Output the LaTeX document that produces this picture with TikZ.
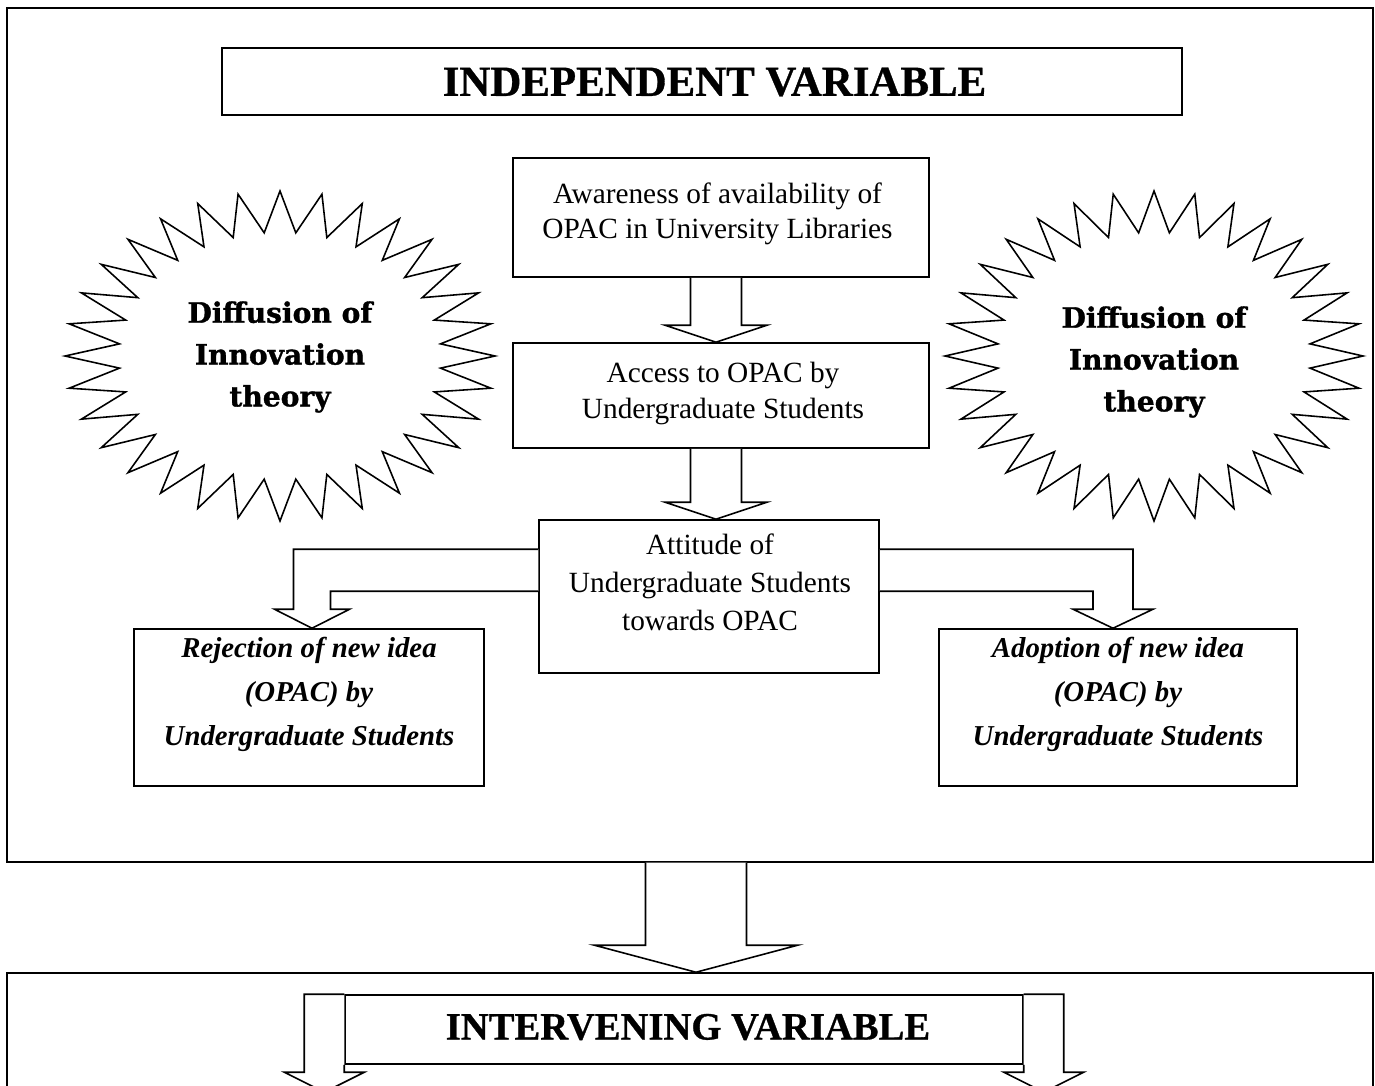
\documentclass[tikz,border=0pt]{standalone}
\usepackage{fontspec}
\setmainfont{Liberation Serif}
\newfontfamily\starfont[BoldFeatures={FakeBold=1.2}]{DejaVu Serif}
\newfontfamily\headfont[BoldFeatures={FakeBold=0.8}]{Liberation Serif}
\usetikzlibrary{calc}
\begin{document}
\begin{tikzpicture}[x=0.02cm,y=-0.02cm,
  box/.style={draw, line width=0.9pt, inner sep=0pt, fill=white},
  ln/.style={draw, line width=0.9pt, line join=miter, fill=white},
  body/.style={font=\fontsize{16.7}{21.5}\selectfont, align=center, inner sep=0pt, anchor=base},
  ital/.style={font=\fontsize{16.4}{24.9}\selectfont\bfseries\itshape, align=center, inner sep=0pt, anchor=base},
  startxt/.style={font=\starfont\bfseries\fontsize{16}{23.8}\selectfont, align=center, inner sep=0pt},
  titletxt/.style={font=\headfont\bfseries\fontsize{24.4}{28}\selectfont, inner sep=0pt}]
\clip (0,0) rectangle (1375,1085);
\fill[white] (0,0) rectangle (1375,1085);

% outer frames
\node[box, minimum width=27.32cm, minimum height=17.08cm] (outer) at (690,435) {};
\node[box, minimum width=27.32cm, minimum height=2.94cm] (lower) at (690,1046.5) {};

% title
\node[box, minimum width=19.2cm, minimum height=1.34cm] (title) at (702,81.5) {};
\node[titletxt] (titlet) at (714.5,82) {INDEPENDENT VARIABLE};

% starbursts
\coordinate (sL) at (280,356);
\coordinate (sR) at (1154,356);
\draw[ln] ($(sL)+(0,165)$) \foreach \k in {1,...,63} { -- ($(sL)+({(0.875+0.125*cos(\k*180))*215*cos(90+\k*5.625)},{(0.875+0.125*cos(\k*180))*165*sin(90+\k*5.625)})$) } -- cycle;
\draw[ln] ($(sR)+(0,165)$) \foreach \k in {1,...,63} { -- ($(sR)+({(0.875+0.125*cos(\k*180))*209*cos(90+\k*5.625)},{(0.875+0.125*cos(\k*180))*165*sin(90+\k*5.625)})$) } -- cycle;
\node[startxt] (starL) at (280,357) {Diffusion of\\Innovation\\theory};
\node[startxt] (starR) at (1154,362) {Diffusion of\\Innovation\\theory};

% central boxes
\node[box, minimum width=8.32cm, minimum height=2.38cm] (aw) at (721,217.5) {};
\node[body, font=\fontsize{16.7}{19.8}\selectfont] (awt) at (717.5,238) {Awareness of availability of\\OPAC in University Libraries};
\node[box, minimum width=8.32cm, minimum height=2.1cm] (ac) at (721,395.5) {};
\node[body, font=\fontsize{16.7}{20.4}\selectfont] (act) at (723,418) {Access to OPAC by\\Undergraduate Students};
\node[box, minimum width=6.8cm, minimum height=3.06cm] (at) at (709,596.5) {};
\node[body] (att) at (710,630) {Attitude of\\Undergraduate Students\\towards OPAC};

\node[box, minimum width=7.0cm, minimum height=3.14cm] (rej) at (309,707.5) {};
\node[ital] (rejt) at (309,745) {Rejection of new idea\\(OPAC) by\\Undergraduate Students};
\node[box, minimum width=7.16cm, minimum height=3.14cm] (adop) at (1118,707.5) {};
\node[ital] (adopt) at (1118,745) {Adoption of new idea\\(OPAC) by\\Undergraduate Students};

% straight block arrows
\coordinate (a1s) at ($(aw.south)+(-5,0)$);
\coordinate (a1t) at ($(ac.north)+(-5,0)$);
\draw[ln] ($(a1s)+(-25.5,0)$) -- ($(a1t)+(-25.5,-17)$) -- ($(a1t)+(-51,-17)$) -- (a1t) -- ($(a1t)+(51,-17)$) -- ($(a1t)+(25.5,-17)$) -- ($(a1s)+(25.5,0)$);
\coordinate (a2s) at ($(ac.south)+(-5,0)$);
\coordinate (a2t) at ($(at.north)+(7,0)$);
\draw[ln] ($(a2s)+(-25.5,0)$) -- ($(a2t)+(-25.5,-17)$) -- ($(a2t)+(-51,-17)$) -- (a2t) -- ($(a2t)+(51,-17)$) -- ($(a2t)+(25.5,-17)$) -- ($(a2s)+(25.5,0)$);

% bent arrows from attitude
\coordinate (Lt) at ($(rej.north)+(3,0)$);
\draw[ln] ($(at.north west)+(0,30)$) -- ($(Lt)+(-18.5,-79)$) -- ($(Lt)+(-18.5,-19)$) -- ($(Lt)+(-37.5,-19)$) -- (Lt) -- ($(Lt)+(37.5,-19)$) -- ($(Lt)+(18.5,-19)$) -- ($(Lt)+(18.5,-37)$) -- ($(at.north west)+(0,72)$);
\coordinate (Rt) at ($(adop.north)+(-5,0)$);
\draw[ln] ($(at.north east)+(0,30)$) -- ($(Rt)+(20,-79)$) -- ($(Rt)+(20,-19)$) -- ($(Rt)+(40,-19)$) -- (Rt) -- ($(Rt)+(-40,-19)$) -- ($(Rt)+(-20,-19)$) -- ($(Rt)+(-20,-37)$) -- ($(at.north east)+(0,72)$);

% big arrow between frames
\coordinate (bs) at ($(outer.south)+(6,0)$);
\coordinate (bt) at ($(lower.north)+(6,0)$);
\draw[ln] ($(bs)+(-50.5,0)$) -- ($(bt)+(-50.5,-27)$) -- ($(bt)+(-101.5,-27)$) -- (bt) -- ($(bt)+(101.5,-27)$) -- ($(bt)+(50.5,-27)$) -- ($(bs)+(50.5,0)$);

% intervening variable
\node[box, minimum width=13.56cm, minimum height=1.38cm] (iv) at (684,1029.5) {};
\node[titletxt, font=\headfont\bfseries\fontsize{22}{26}\selectfont] (ivt) at (688,1027) {INTERVENING VARIABLE};
\draw[ln] (iv.north west) -- ($(iv.north west)+(-40,0)$) -- ($(iv.north west)+(-40,78)$) -- ($(iv.north west)+(-60,78)$) -- ($(iv.north west)+(-20,98)$) -- ($(iv.north west)+(20,78)$) -- ($(iv.north west)+(0,78)$) -- (iv.south west);
\draw[ln] (iv.north east) -- ($(iv.north east)+(40,0)$) -- ($(iv.north east)+(40,78)$) -- ($(iv.north east)+(60,78)$) -- ($(iv.north east)+(20,98)$) -- ($(iv.north east)+(-20,78)$) -- ($(iv.north east)+(0,78)$) -- (iv.south east);
\end{tikzpicture}
\end{document}
